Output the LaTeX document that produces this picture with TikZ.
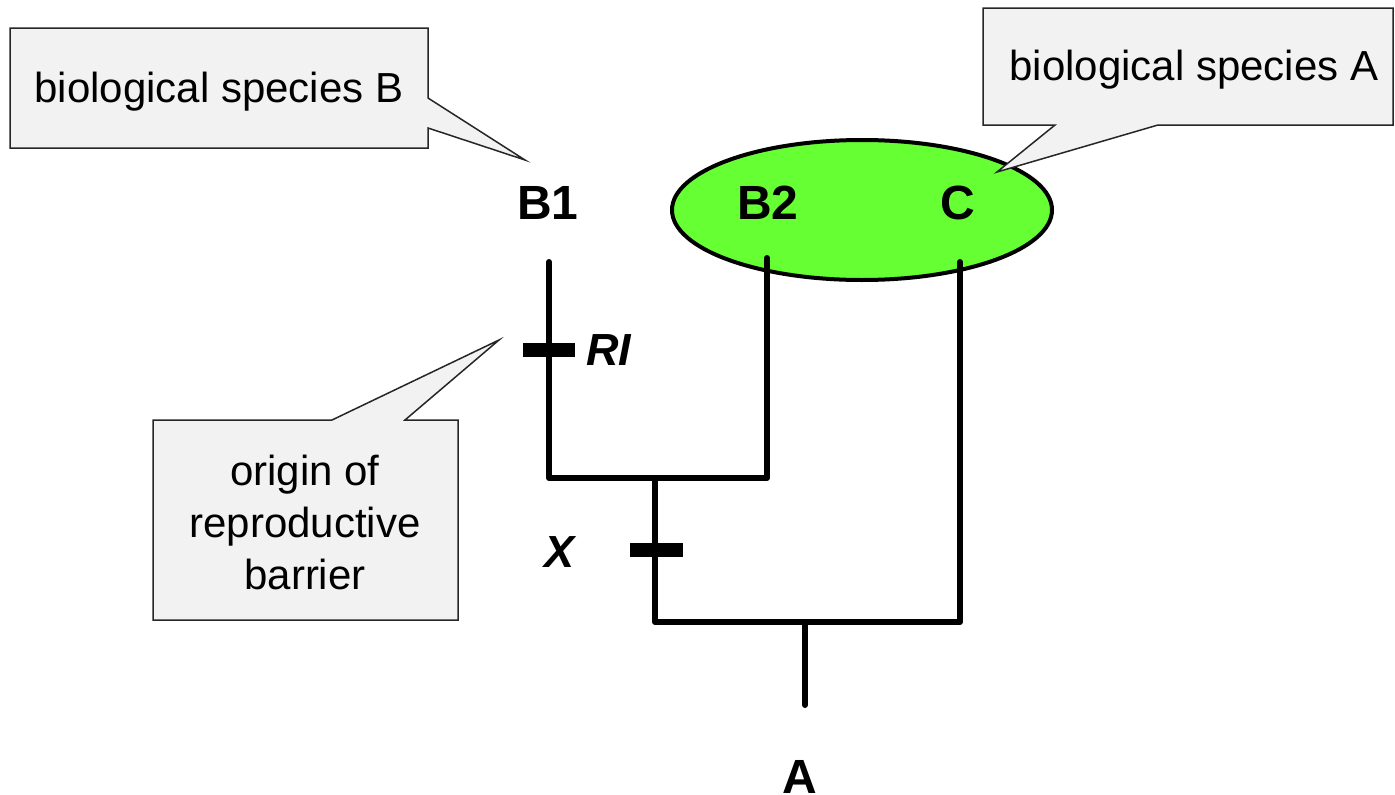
\documentclass[tikz,border=0pt]{standalone}
\usepackage{fontspec}
\setmainfont{Liberation Sans}
\usetikzlibrary{shapes.geometric}
\definecolor{callfill}{HTML}{F2F2F2}
\definecolor{speciesgreen}{HTML}{66FF33}
\tikzset{
  callout/.style={fill=callfill,draw=black!85,line width=1.5pt,line join=miter},
  calltext/.style={font=\fontsize{42}{52}\selectfont,align=center,inner sep=0pt},
  taxon/.style={font=\fontsize{48}{56}\selectfont\bfseries,inner sep=0pt},
  branch/.style={line width=6pt,line cap=round,line join=round},
  barmark/.style={line width=14pt},
  marklabel/.style={font=\fontsize{45}{52}\selectfont\bfseries\itshape,inner sep=0pt}
}
\begin{document}
\begin{tikzpicture}[x=1pt,y=-1pt]
\useasboundingbox (0,0) rectangle (1395,795);
% ellipse (species A)
\node[ellipse,draw=black,line width=4pt,fill=speciesgreen,minimum width=380pt,minimum height=140pt,inner sep=0pt] (spA) at (862,210) {};
% taxa labels
\node[taxon] (B1) at (548,203) {B1};
\node[taxon] (B2) at (768,203) {B2};
\node[taxon] (C) at (958,203) {C};
\node[taxon,anchor=base] (A) at (800,793) {A};
% tree coordinates
\coordinate (b1top) at (549,262);
\coordinate (b1bot) at (549,478);
\coordinate (b2top) at (767,258);
\coordinate (b2bot) at (767,478);
\coordinate (j1) at (655,478);
\coordinate (j1bot) at (655,622);
\coordinate (ctop) at (960,262);
\coordinate (cbot) at (960,622);
\coordinate (rtop) at (805,622);
\coordinate (rbot) at (805,705);
\draw[branch] (b1top) -- (b1bot) -- (b2bot) -- (b2top);
\draw[branch] (j1) -- (j1bot) -- (cbot) -- (ctop);
\draw[branch] (rtop) -- (rbot);
% bars
\coordinate (riL) at (523,350); \coordinate (riR) at (575,350);
\coordinate (xL) at (630,550); \coordinate (xR) at (683,550);
\draw[barmark] (riL) -- (riR);
\draw[barmark] (xL) -- (xR);
\node[marklabel] (RI) at (609,350) {RI};
\node[marklabel] (X) at (560,552) {X};
% callout B
\draw[callout] (10,28) -- (428,28) -- (428,98) -- (525,160) -- (428,128) -- (428,148) -- (10,148) -- cycle;
\node[calltext] (tB) at (219,92) {biological species B};
% callout A
\draw[callout] (983,8) -- (1393,8) -- (1393,125) -- (1158,125) -- (997,172) -- (1055,125) -- (983,125) -- cycle;
\node[calltext] (tA) at (1194,70) {biological species A};
% callout RI
\draw[callout] (153,420) -- (332,420) -- (499,340) -- (405,420) -- (458,420) -- (458,620) -- (153,620) -- cycle;
\node[calltext] (tRI) at (305,522) {origin of\\reproductive\\barrier};
\end{tikzpicture}
\end{document}
